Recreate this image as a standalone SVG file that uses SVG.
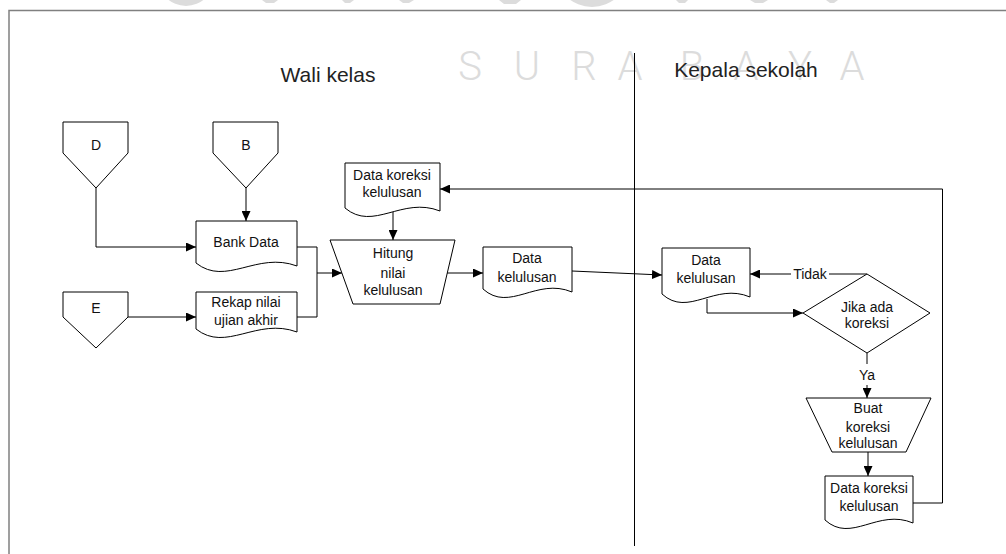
<svg xmlns="http://www.w3.org/2000/svg" width="1006" height="554" viewBox="0 0 1006 554">
  <defs>
    <marker id="arrow" viewBox="0 0 10 9" refX="10" refY="4.5" markerWidth="10" markerHeight="9" markerUnits="userSpaceOnUse" orient="auto">
      <path d="M0,0 L10,4.5 L0,9 Z" fill="#000"/>
    </marker>
    <style>
      .shape { fill: #fff; stroke: #000; stroke-width: 1; }
      .line { fill: none; stroke: #000; stroke-width: 1; }
      .arr { fill: none; stroke: #000; stroke-width: 1; marker-end: url(#arrow); }
      .lbl { font-family: "Liberation Sans", Arial, sans-serif; font-size: 14px; fill: #111; text-anchor: middle; }
      .title { font-family: "Liberation Sans", Arial, sans-serif; font-size: 21px; fill: #222; text-anchor: middle; }
      .wm { font-family: Roboto, "Liberation Sans", sans-serif; font-weight: 300; font-size: 40px; fill: #dcdcdc; text-anchor: middle; }
      .wmshape { fill: #dcdcdc; }
    </style>
  </defs>

  <rect width="1006" height="554" fill="#fff"/>

  <!-- background watermark -->
  <g id="watermark">
    <ellipse class="wmshape" cx="186" cy="-22" rx="28" ry="28"/>
    <ellipse class="wmshape" cx="592" cy="-28" rx="36" ry="35"/>
    <path class="wmshape" d="M262,0 L278,0 L274,3 L266,3 Z"/>
    <path class="wmshape" d="M342,0 L354,0 L350,3 L345,3 Z"/>
    <path class="wmshape" d="M399,0 L414,0 L409,3 L403,3 Z"/>
    <path class="wmshape" d="M499,0 L521,0 L516,4 L504,4 Z"/>
    <path class="wmshape" d="M676,0 L688,0 L685,3 L679,3 Z"/>
    <path class="wmshape" d="M750,0 L768,0 L763,3 L755,3 Z"/>
    <path class="wmshape" d="M826,0 L838,0 L834,3 L830,3 Z"/>
    <text class="wm" y="80">
      <tspan x="470">S</tspan><tspan x="527">U</tspan><tspan x="584">R</tspan><tspan x="630">A</tspan><tspan x="692">B</tspan><tspan x="746">A</tspan><tspan x="800">Y</tspan><tspan x="852">A</tspan>
    </text>
  </g>

  <!-- page frame and swimlane divider -->
  <g id="frame">
    <rect x="9" y="10.5" width="1010" height="560" fill="none" stroke="#808080" stroke-width="1.5"/>
    <line x1="634.5" y1="53" x2="634.5" y2="546" stroke="#000" stroke-width="1"/>
    <text class="title" x="328" y="82">Wali kelas</text>
    <text class="title" x="746" y="77">Kepala sekolah</text>
  </g>

  <!-- connectors -->
  <g id="connectors">
    <path class="arr" d="M96,188 V247 H196"/>
    <path class="arr" d="M246,188 V221"/>
    <path class="arr" d="M128,317 H196"/>
    <path class="line" d="M297,247 H317 V317 H297"/>
    <path class="arr" d="M317,273 H342"/>
    <path class="arr" d="M393,212 V240"/>
    <path class="arr" d="M447,273 H483"/>
    <path class="arr" d="M572,271 L662,275"/>
    <path class="line" d="M867,274 H829"/>
    <path class="arr" d="M791,274 H750"/>
    <path class="arr" d="M707,299 V313 H803"/>
    <path class="line" d="M867,353 V364"/>
    <path class="arr" d="M867,385 V398"/>
    <path class="arr" d="M868,452 V476"/>
    <path class="arr" d="M913,503 H942.5 V189 H440"/>
    <text class="lbl" x="810" y="279">Tidak</text>
    <text class="lbl" x="867" y="380">Ya</text>
  </g>

  <!-- off-page connectors -->
  <g id="conn-D">
    <path class="shape" d="M63,122 H128 V153 L96,188 L63,153 Z"/>
    <text class="lbl" x="96" y="150">D</text>
  </g>
  <g id="conn-B">
    <path class="shape" d="M213,122 H278 V153 L246,188 L213,153 Z"/>
    <text class="lbl" x="246" y="150">B</text>
  </g>
  <g id="conn-E">
    <path class="shape" d="M63,292 H128 V317 L96,348 L63,317 Z"/>
    <text class="lbl" x="96" y="313">E</text>
  </g>

  <!-- documents and processes -->
  <g id="doc-bank-data">
    <path class="shape" d="M196,221 H297 V266 C256.6,251 226.3,287 196,263 Z"/>
    <text class="lbl" x="246" y="247">Bank Data</text>
  </g>
  <g id="doc-rekap">
    <path class="shape" d="M196,292 H297 V332 C256.6,317 226.3,353 196,329 Z"/>
    <text class="lbl" x="246" y="307">Rekap nilai</text>
    <text class="lbl" x="246" y="325">ujian akhir</text>
  </g>
  <g id="doc-koreksi-top">
    <path class="shape" d="M345,163 H440 V211 C402,196 373.5,232 345,208 Z"/>
    <text class="lbl" x="392" y="180">Data koreksi</text>
    <text class="lbl" x="392" y="197">kelulusan</text>
  </g>
  <g id="proc-hitung">
    <path class="shape" d="M330,240 H455 L440,304 H353 Z"/>
    <text class="lbl" x="393" y="258">Hitung</text>
    <text class="lbl" x="393" y="278">nilai</text>
    <text class="lbl" x="393" y="295">kelulusan</text>
  </g>
  <g id="doc-kelulusan">
    <path class="shape" d="M483,247 H572 V292 C536.4,277 509.7,313 483,289 Z"/>
    <text class="lbl" x="527" y="263">Data</text>
    <text class="lbl" x="527" y="282">kelulusan</text>
  </g>
  <g id="doc-kelulusan-kepsek">
    <path class="shape" d="M662,248 H750 V297 C714.8,282 688.4,318 662,294 Z"/>
    <text class="lbl" x="706" y="265">Data</text>
    <text class="lbl" x="706" y="283">kelulusan</text>
  </g>
  <g id="decision-koreksi">
    <path class="shape" d="M867,274 L930,313 L867,353 L803,313 Z"/>
    <text class="lbl" x="867" y="312">Jika ada</text>
    <text class="lbl" x="867" y="328">koreksi</text>
  </g>
  <g id="proc-buat-koreksi">
    <path class="shape" d="M806,398 H931 L906,452 H832 Z"/>
    <text class="lbl" x="868" y="413">Buat</text>
    <text class="lbl" x="868" y="432">koreksi</text>
    <text class="lbl" x="868" y="448">kelulusan</text>
  </g>
  <g id="doc-koreksi-bottom">
    <path class="shape" d="M825,476 H913 V523 C877.8,508 851.4,544 825,520 Z"/>
    <text class="lbl" x="869" y="493">Data koreksi</text>
    <text class="lbl" x="869" y="511">kelulusan</text>
  </g>
</svg>
